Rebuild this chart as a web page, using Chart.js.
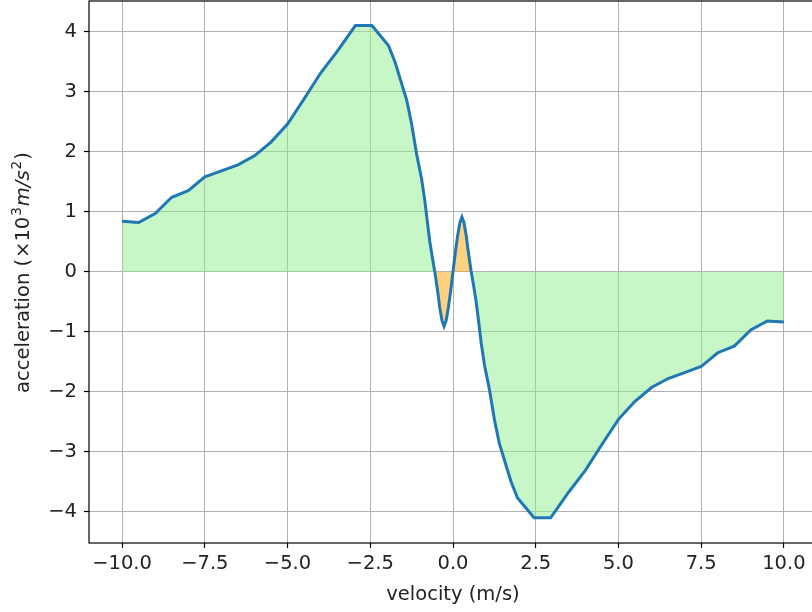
<!DOCTYPE html>
<html>
<head>
<meta charset="utf-8">
<script src="https://cdn.jsdelivr.net/npm/chart.js@4.4.0/dist/chart.umd.min.js"></script>
<style>
  html, body { margin: 0; padding: 0; overflow: hidden; background: #fff; }
  #chart { display: block; }
</style>
</head>
<body>
<canvas id="chart" width="830" height="612"></canvas>
<script>
// values
const velocity = [-10, -9.5, -9, -8.5, -8, -7.5, -7, -6.5, -6, -5.5,
  -5, -4.5, -4, -3.5, -2.95, -2.45, -1.95, -1.75, -1.4, -1.25,
  -1.1, -0.95, -0.85, -0.78, -0.7, -0.62, -0.55, -0.47, -0.4, -0.33,
  -0.27, -0.21, -0.14, -0.07, 0, 0.07, 0.14, 0.21, 0.27, 0.33,
  0.4, 0.47, 0.55, 0.62, 0.7, 0.78, 0.85, 0.95, 1.1, 1.25,
  1.4, 1.75, 1.95, 2.45, 2.95, 3.5, 4, 4.5, 5, 5.5,
  6, 6.5, 7, 7.5, 8, 8.5, 9, 9.5, 10];
const acceleration = [0.84, 0.82, 0.97, 1.24, 1.35, 1.58, 1.68, 1.78, 1.93, 2.16,
  2.46, 2.88, 3.31, 3.67, 4.1, 4.1, 3.77, 3.49, 2.86, 2.46,
  1.96, 1.55, 1.18, 0.85, 0.5, 0.22, 0, -0.3, -0.6, -0.82,
  -0.91, -0.82, -0.6, -0.32, 0, 0.32, 0.6, 0.82, 0.91, 0.82,
  0.6, 0.3, 0, -0.22, -0.5, -0.85, -1.18, -1.55, -1.96, -2.46,
  -2.86, -3.49, -3.77, -4.1, -4.1, -3.67, -3.31, -2.88, -2.46, -2.16,
  -1.93, -1.78, -1.68, -1.58, -1.35, -1.24, -0.97, -0.82, -0.84];

const xTicks = [-10, -7.5, -5, -2.5, 0, 2.5, 5, 7.5, 10];
const xTickLabels = ['−10.0', '−7.5', '−5.0', '−2.5', '0.0', '2.5', '5.0', '7.5', '10.0'];
const yTicks = [-4, -3, -2, -1, 0, 1, 2, 3, 4];
const yTickLabels = ['−4', '−3', '−2', '−1', '0', '1', '2', '3', '4'];

const fontFamily = "'DejaVu Sans', sans-serif";
const fontSize = 19.5;
const green = 'rgba(144, 238, 144, 0.5)';
const orange = 'rgba(255, 165, 0, 0.5)';

const points = velocity.map((v, i) => ({x: v, y: acceleration[i]}));

// frame round the plot area (top and right spines included)
const framePlugin = {
  id: 'frame',
  afterDraw(chart) {
    const {ctx, chartArea: a} = chart;
    ctx.save();
    ctx.strokeStyle = '#000';
    ctx.lineWidth = 1.2;
    ctx.strokeRect(a.left, a.top, a.right - a.left, a.bottom - a.top);
    ctx.restore();
  }
};

// y label with superscripts and italic m/s, like mathtext
const yTitleParts = [
  {text: 'acceleration (', italic: false, sup: false},
  {text: '×10', italic: false, sup: false},
  {text: '3', italic: false, sup: true},
  {text: 'm/s', italic: true, sup: false},
  {text: '2', italic: false, sup: true},
  {text: ')', italic: false, sup: false}
];

const yTitlePlugin = {
  id: 'yTitle',
  afterDraw(chart) {
    const {ctx, chartArea: a} = chart;
    const fontOf = (p) => (p.italic ? 'italic ' : '') + (p.sup ? fontSize * 0.7 : fontSize) + 'px ' + fontFamily;
    ctx.save();
    let total = 0;
    yTitleParts.forEach(p => { ctx.font = fontOf(p); total += ctx.measureText(p.text).width + 1; });
    ctx.translate(29, (a.top + a.bottom) / 2);
    ctx.rotate(-Math.PI / 2);
    ctx.fillStyle = '#222';
    ctx.textBaseline = 'alphabetic';
    let x = -total / 2;
    yTitleParts.forEach(p => {
      ctx.font = fontOf(p);
      ctx.fillText(p.text, x, p.sup ? -fontSize * 0.42 : 0);
      x += ctx.measureText(p.text).width + 1;
    });
    ctx.restore();
  }
};

new Chart(document.getElementById('chart'), {
  type: 'line',
  data: {
    datasets: [{
      data: points,
      borderColor: '#1f77b4',
      borderWidth: 3,
      backgroundColor: green,
      pointRadius: 0,
      fill: 'origin',
      segment: {
        backgroundColor: (c) => {
          const mx = (c.p0.parsed.x + c.p1.parsed.x) / 2;
          const my = (c.p0.parsed.y + c.p1.parsed.y) / 2;
          return mx * my > 0 ? orange : undefined;
        }
      }
    }]
  },
  options: {
    responsive: false,
    animation: false,
    devicePixelRatio: 1,
    layout: {padding: {left: 0, right: 13, top: 1, bottom: 0}},
    plugins: {legend: {display: false}, tooltip: {enabled: false}},
    scales: {
      x: {
        type: 'linear',
        min: -11,
        max: 11,
        afterBuildTicks: (axis) => { axis.ticks = xTicks.map(v => ({value: v})); },
        afterFit: (axis) => {
          axis.height = 69;
          axis.paddingLeft = 0;
          axis.paddingRight = 0;
        },
        grid: {color: '#b0b0b0', lineWidth: 1, tickColor: '#000', tickLength: 5, tickWidth: 1.2},
        border: {display: false},
        ticks: {
          font: {family: fontFamily, size: fontSize},
          color: '#222',
          padding: 4,
          maxRotation: 0,
          autoSkip: false,
          callback: (v) => xTickLabels[xTicks.indexOf(v)]
        },
        title: {
          display: true,
          text: 'velocity (m/s)',
          font: {family: fontFamily, size: fontSize},
          color: '#222',
          padding: {top: 0, bottom: 5}
        }
      },
      y: {
        type: 'linear',
        min: -4.52,
        max: 4.51,
        afterBuildTicks: (axis) => { axis.ticks = yTicks.map(v => ({value: v})); },
        afterFit: (axis) => {
          axis.width = 89;
          axis.paddingTop = 0;
          axis.paddingBottom = 0;
        },
        grid: {color: '#b0b0b0', lineWidth: 1, tickColor: '#000', tickLength: 5, tickWidth: 1.2},
        border: {display: false},
        ticks: {
          font: {family: fontFamily, size: fontSize},
          color: '#222',
          padding: 7,
          autoSkip: false,
          callback: (v) => yTickLabels[yTicks.indexOf(v)]
        }
      }
    }
  },
  plugins: [framePlugin, yTitlePlugin]
});
</script>
</body>
</html>
